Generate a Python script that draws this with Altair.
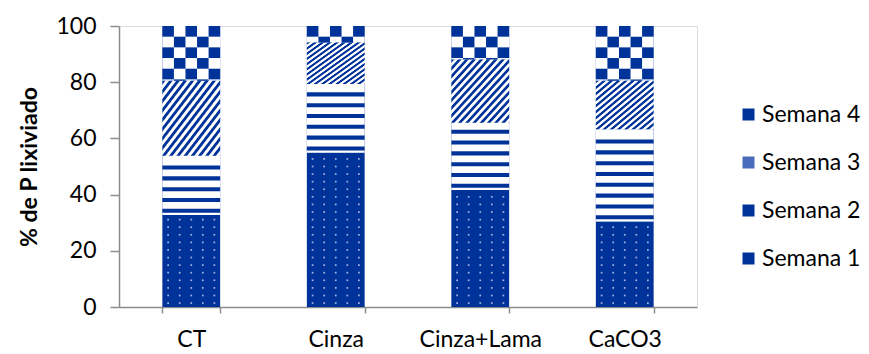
import altair as alt
import pandas as pd

categories = ["CT", "Cinza", "Cinza+Lama", "CaCO3"]
series = ["Semana 1", "Semana 2", "Semana 3", "Semana 4"]
semana1 = [32.7, 54.9, 41.6, 30.4]
semana2 = [21.1, 24.5, 24.0, 32.9]
semana3 = [26.7, 14.7, 22.5, 17.2]
semana4 = [19.5, 5.9, 11.9, 19.5]
legend_order = ["Semana 4", "Semana 3", "Semana 2", "Semana 1"]
y_ticks = [0, 20, 40, 60, 80, 100]

BLUE = "#003399"
GRAY = "#8c8c8c"
FONT = "Lato"
FS = 23

values = [semana1, semana2, semana3, semana4]

# stacked segments
seg_rows = []
for ci, cat in enumerate(categories):
    base = 0.0
    for si, s in enumerate(series):
        v = values[si][ci]
        seg_rows.append({"cat": cat, "Semana": s, "y0": base, "y1": base + v, "val": v})
        base += v
seg = pd.DataFrame(seg_rows)

def bounds(cat, s):
    r = seg[(seg.cat == cat) & (seg.Semana == s)].iloc[0]
    return r.y0, r.y1

# pattern helpers derived from the segment extents
NCOL = 5
check_rows, stripe_rows, dot_rows = [], [], []
for cat in categories:
    lo, hi = bounds(cat, "Semana 4")
    h = 3.8
    k = 0
    while hi - k * h > lo + 0.05:
        top = hi - k * h
        bot = max(hi - (k + 1) * h, lo)
        for c in range(NCOL):
            if (k + c) % 2 == 0:
                check_rows.append({"cat": cat, "col": c, "a": bot, "b": top})
        k += 1
    lo, hi = bounds(cat, "Semana 2")
    per, th = 3.85, 1.45
    j = 0
    while lo + 0.8 + j * per + th <= hi - 0.2:
        s0 = lo + 0.8 + j * per
        stripe_rows.append({"cat": cat, "a": s0, "b": s0 + th})
        j += 1
    lo, hi = bounds(cat, "Semana 1")
    j = 0
    while lo + 1.4 + j * 2.7 < hi - 0.8:
        for c in range(NCOL):
            dot_rows.append({"cat": cat, "col": c, "yy": lo + 1.4 + j * 2.7})
        j += 1

checks = pd.DataFrame(check_rows)
stripes = pd.DataFrame(stripe_rows)
dots = pd.DataFrame(dot_rows)

x_enc = alt.X("cat:N", sort=categories,
              scale=alt.Scale(paddingInner=0.6, paddingOuter=0.3),
              axis=alt.Axis(title=None, labelAngle=0, tickBand="extent", tickSize=6,
                            labelPadding=15, labelFontSize=FS, labelColor="#000000",
                            domainColor=GRAY, tickColor=GRAY, domainWidth=1.5, tickWidth=1.5,
                            labelFont=FONT))
y_scale = alt.Scale(domain=[0, 100], nice=False)

base = alt.Chart(seg).mark_bar(strokeWidth=0).encode(
    x=x_enc,
    y=alt.Y("y0:Q", scale=y_scale,
            axis=alt.Axis(values=y_ticks, title="% de P lixiviado", grid=False,
                          tickSize=9, labelPadding=14, labelFontSize=FS, labelColor="#000000",
                          labelFont=FONT, domainColor=GRAY, tickColor=GRAY,
                          domainWidth=1.5, tickWidth=1.5,
                          titleFont=FONT, titleFontSize=FS, titleFontWeight="bold",
                          titleColor="#000000", titlePadding=14)),
    y2="y1:Q",
    color=alt.Color("Semana:N",
                    scale=alt.Scale(domain=legend_order,
                                    range=[BLUE, "#4a6dbb", BLUE, BLUE]),
                    legend=alt.Legend(title=None, orient="none", legendX=618, legendY=77,
                                      symbolType="square", symbolSize=144,
                                      symbolStrokeWidth=0,
                                      labelFontSize=FS, labelFont=FONT,
                                      labelColor="#000000", labelOffset=2, rowPadding=24)),
)

# white ground for the patterned segments
white = alt.Chart(seg[seg.Semana != "Semana 1"]).mark_bar(color="#ffffff", strokeWidth=0).encode(
    x=alt.X("cat:N", sort=categories), y=alt.Y("y0:Q", scale=y_scale), y2="y1:Q")

stops = []
N = 16
for i in range(N):
    stops += [
        {"offset": i / N, "color": BLUE},
        {"offset": (i + 0.33) / N, "color": BLUE},
        {"offset": (i + 0.5) / N, "color": "#ffffff"},
        {"offset": (i + 0.85) / N, "color": "#ffffff"},
    ]
stops.append({"offset": 1.0, "color": BLUE})
grad = {"gradient": "linear", "stops": stops, "x1": 0, "y1": 0, "x2": 1, "y2": 1}

diag = alt.Chart(seg[seg.Semana == "Semana 3"]).mark_bar(fill=grad, strokeWidth=0).encode(
    x=alt.X("cat:N", sort=categories), y=alt.Y("y0:Q", scale=y_scale), y2="y1:Q")

stripe_layer = alt.Chart(stripes).mark_bar(color=BLUE, strokeWidth=0).encode(
    x=alt.X("cat:N", sort=categories), y=alt.Y("a:Q", scale=y_scale), y2="b:Q")

check_layer = alt.Chart(checks).mark_bar(color=BLUE, strokeWidth=0).encode(
    x=alt.X("cat:N", sort=categories), xOffset=alt.XOffset("col:N", scale=alt.Scale(paddingInner=0, paddingOuter=0)),
    y=alt.Y("a:Q", scale=y_scale), y2="b:Q")

dot_layer = alt.Chart(dots).mark_square(color="#9fb2e0", size=3, opacity=1).encode(
    x=alt.X("cat:N", sort=categories), xOffset=alt.XOffset("col:N"),
    y=alt.Y("yy:Q", scale=y_scale))

chart = alt.layer(base, white, diag, stripe_layer, check_layer, dot_layer).properties(
    width=578, height=281,
    autosize=alt.AutoSizeParams(type="none"),
    padding={"left": 119, "top": 26, "right": 172, "bottom": 47},
).configure_view(stroke=GRAY, strokeWidth=1.5).configure(background="white")

chart.save("out.html", embed_options={"renderer": "svg", "actions": False})
